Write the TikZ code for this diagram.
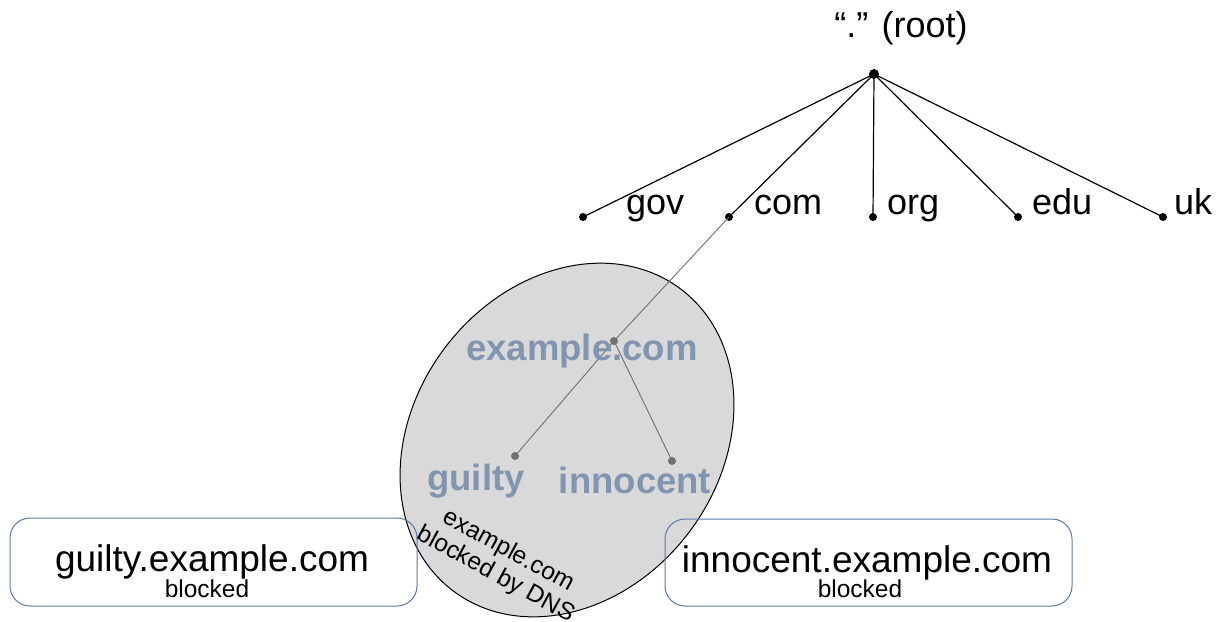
\documentclass[tikz,border=0pt]{standalone}
\usepackage{fontspec}
\setmainfont{Liberation Sans}
\definecolor{lbl}{HTML}{8195B0}
\definecolor{boxc}{HTML}{5A78A8}
\definecolor{dotg}{HTML}{707070}
\definecolor{ellf}{HTML}{D9D9D9}
\begin{document}
\begin{tikzpicture}[x=1pt,y=-1pt,
  dot/.style={circle,fill=black,inner sep=0pt,minimum size=8pt},
  gdot/.style={circle,fill=dotg,inner sep=0pt,minimum size=8pt},
  tlabel/.style={inner sep=0pt,anchor=base west,font=\fontsize{36}{40}\selectfont},
  blabel/.style={inner sep=0pt,anchor=base,text=lbl,font=\fontsize{36.5}{40}\selectfont\bfseries},
  bigtext/.style={inner sep=0pt,anchor=base,font=\fontsize{37}{40}\selectfont},
  smalltext/.style={inner sep=0pt,anchor=base,font=\fontsize{24.5}{27}\selectfont},
  edge/.style={line width=1.2pt},
  gedge/.style={line width=0.9pt,draw=dotg},
  rbox/.style={draw=boxc,line width=1pt,rounded corners=20pt}]
\useasboundingbox (0,0) rectangle (1220,621);
% ellipse
\draw[fill=ellf,line width=1pt,rotate around={53:(567,440)}] (567,440) ellipse [x radius=189pt, y radius=153pt];
% root
\node[dot,minimum size=10pt] (root) at (874,74) {};
\node[inner sep=0pt,anchor=base,font=\fontsize{36}{40}\selectfont] (rootl) at (901,37) {“.” (root)};
\node[dot] (gov) at (583,217) {};
\node[dot] (com) at (729,217) {};
\node[dot] (org) at (873,217) {};
\node[dot] (edu) at (1018,217) {};
\node[dot] (uk) at (1163,217) {};
\node[tlabel] (govl) at (626,214) {gov};
\node[tlabel] (coml) at (754,214) {com};
\node[tlabel] (orgl) at (887,214) {org};
\node[tlabel] (edul) at (1032,214) {edu};
\node[tlabel] (ukl) at (1174,214) {uk};
\foreach \n in {gov,com,org,edu,uk} \draw[edge] (root.center) -- (\n.center);
% subtree
\node[gdot] (ex) at (614,341) {};
\node[gdot] (gu) at (515,456) {};
\node[gdot] (in) at (672,461) {};
\draw[gedge] (com.center) -- (ex.center);
\draw[gedge] (ex.center) -- (gu.center);
\draw[gedge] (ex.center) -- (in.center);
\node[blabel] (exl) at (582,360) {example.com};
\node[blabel] (gul) at (476,490) {guilty};
\node[blabel] (inl) at (635,493) {innocent};
% rotated text
\node[inner sep=0pt,rotate=-28.5,align=center,font=\fontsize{24.5}{27}\selectfont] (rot) at (502,563) {example.com\\blocked by DNS};
% boxes
\draw[rbox] (10,518) rectangle (417,606);
\draw[rbox] (665,519) rectangle (1072,606);
\node[bigtext] (gbt) at (212,571) {guilty.example.com};
\node[smalltext] (gbb) at (207,597) {blocked};
\node[bigtext] (ibt) at (867,572) {innocent.example.com};
\node[smalltext] (ibb) at (860,597) {blocked};
\end{tikzpicture}
\end{document}
